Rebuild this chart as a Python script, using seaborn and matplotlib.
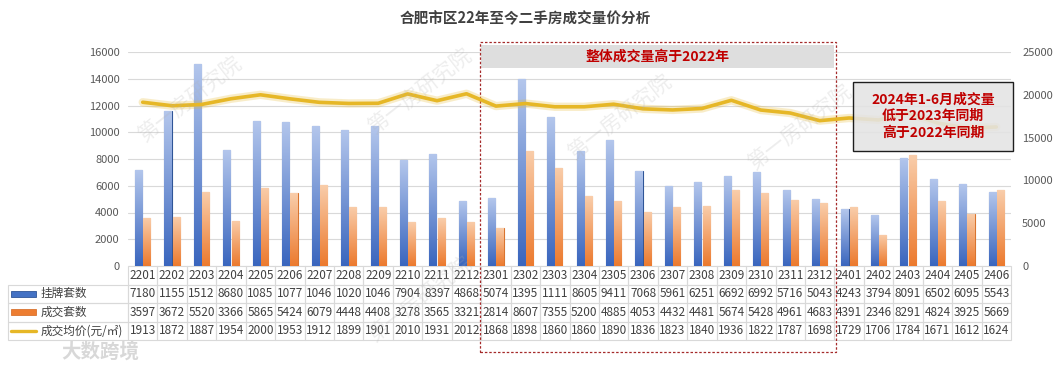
import numpy as np
import pandas as pd
import matplotlib
matplotlib.use("Agg")
import matplotlib.pyplot as plt
import seaborn as sns
from matplotlib.patches import Rectangle
from matplotlib.lines import Line2D

months = ["2201", "2202", "2203", "2204", "2205", "2206", "2207", "2208", "2209", "2210", "2211", "2212",
          "2301", "2302", "2303", "2304", "2305", "2306", "2307", "2308", "2309", "2310", "2311", "2312",
          "2401", "2402", "2403", "2404", "2405", "2406"]
listings = [7180, 11553, 15125, 8680, 10853, 10772, 10461, 10203, 10462, 7904, 8397, 4868,
            5074, 13953, 11114, 8605, 9411, 7068, 5961, 6251, 6692, 6992, 5716, 5043,
            4243, 3794, 8091, 6502, 6095, 5543]
deals = [3597, 3672, 5520, 3366, 5865, 5424, 6079, 4448, 4408, 3278, 3565, 3321,
         2814, 8607, 7355, 5200, 4885, 4053, 4432, 4481, 5674, 5428, 4961, 4683,
         4391, 2346, 8291, 4824, 3925, 5669]
price = [19130, 18720, 18870, 19540, 20000, 19530, 19120, 18990, 19010, 20100, 19310, 20120,
         18680, 18980, 18600, 18600, 18900, 18360, 18230, 18400, 19360, 18220, 17870, 16980,
         17290, 17060, 17840, 16710, 16120, 16240]
series_names = ["挂牌套数", "成交套数", "成交均价(元/㎡)"]
title = "合肥市区22年至今二手房成交量价分析"
note_2023 = "整体成交量高于2022年"
note_2024 = "2024年1-6月成交量\n低于2023年同期\n高于2022年同期"

blue = "#4472C4"
orange = "#ED7D31"
gold = "#E6B727"
red_txt = "#C00000"

sns.set_theme(style="white")
plt.rcParams["font.family"] = ["Noto Sans CJK SC", "DejaVu Sans"]

df = pd.DataFrame({"month": months, series_names[0]: listings, series_names[1]: deals})
long = df.melt(id_vars="month", var_name="series", value_name="count")
n = len(months)

fig = plt.figure(figsize=(10.56, 3.71), dpi=100)
ax = fig.add_axes([128 / 1056, 1 - 266 / 371, 883 / 1056, 214 / 371])
sns.barplot(data=long, x="month", y="count", hue="series", palette=[blue, orange],
            width=0.56, gap=0.14, saturation=1, legend=False, ax=ax)

# vertical gradient fill on each bar, like the excel style
grads = {
    "blue": ("#3A66BE", "#B3C6EC", "#2F5597"),
    "orange": ("#EC7A2E", "#F9CDAA", "#D9742F"),
}
for p in list(ax.patches):
    h = p.get_height()
    if h <= 0:
        continue
    fc = p.get_facecolor()
    key = "blue" if fc[2] > fc[0] else "orange"
    lo, hi, edge = grads[key]
    c_lo = np.array(matplotlib.colors.to_rgba(lo))
    c_hi = np.array(matplotlib.colors.to_rgba(hi))
    t = np.linspace(0, 1, 64)[:, None, None]
    img = c_lo * (1 - t) + c_hi * t
    x0 = p.get_x()
    im = ax.imshow(img, extent=[x0, x0 + p.get_width(), 0, h], origin="lower",
                   aspect="auto", zorder=p.get_zorder(), interpolation="bilinear")
    im.set_clip_path(p)
    p.set_facecolor("none")
    p.set_edgecolor(edge)
    p.set_linewidth(0.8)

ax.set_xlim(-0.5, n - 0.5)
ax.set_ylim(0, 16000)
ax.set_yticks(range(0, 16001, 2000))
ax.grid(axis="y", color="#D9D9D9", lw=0.8)
ax.set_axisbelow(True)
ax.set_xlabel("")
ax.set_ylabel("")
ax.tick_params(axis="x", length=0, labelbottom=False)
ax.tick_params(axis="y", length=0, labelsize=8, labelcolor="#595959", pad=6)
for s in ax.spines.values():
    s.set_visible(False)

ax2 = ax.twinx()
sns.lineplot(x=np.arange(n), y=price, ax=ax2, color=gold, lw=6, alpha=0.25, zorder=3)
sns.lineplot(x=np.arange(n), y=price, ax=ax2, color=gold, lw=2.6, zorder=4)
ax2.set_xlim(-0.5, n - 0.5)
ax2.set_ylim(0, 25000)
ax2.set_yticks(range(0, 25001, 5000))
ax2.tick_params(axis="y", length=0, labelsize=8, labelcolor="#595959", pad=8)
ax2.set_ylabel("")
for s in ax2.spines.values():
    s.set_visible(False)

# data table under the chart
rows = [[""] + months]
for vals in (listings, deals, price):
    rows.append([""] + [str(v)[:4] for v in vals])
x_left = (8 - 128) / 883
tbl = ax.table(cellText=rows, cellLoc="center", bbox=[x_left, -0.3458, 1 - x_left, 0.3458])
tbl.auto_set_font_size(False)
tbl.set_fontsize(8.5)
for (r, c), cell in tbl.get_celld().items():
    cell.set_edgecolor("#D9D9D9")
    cell.set_linewidth(0.8)
    cell.set_width(120 if c == 0 else 29.43)
    cell.get_text().set_color("#404040")
    cell.set_facecolor("none")
tbl[(0, 0)].visible_edges = "open"

row_y = [-0.3458 * (k + 0.5) / 4 for k in range(4)]
sw_x0 = (11 - 128) / 883
sw_w = 25 / 883
tx = (41 - 128) / 883
for k, name in enumerate(series_names):
    yc = row_y[k + 1]
    if k < 2:
        col = blue if k == 0 else orange
        edge = grads["blue" if k == 0 else "orange"][2]
        ax.add_patch(Rectangle((sw_x0, yc - 0.014), sw_w, 0.028, transform=ax.transAxes,
                               facecolor=col, edgecolor=edge, lw=0.6, clip_on=False))
    else:
        ax.add_line(Line2D([sw_x0, sw_x0 + sw_w], [yc, yc], transform=ax.transAxes,
                           color=gold, lw=2.4, clip_on=False))
    ax.text(tx, yc, name, transform=ax.transAxes, ha="left", va="center",
            fontsize=8.4, color="#404040")

# annotation boxes
tr = ax.get_xaxis_transform()
ax.add_patch(Rectangle((11.45, -0.402), 23.55 - 11.45, 1.047 + 0.402, transform=tr,
                       fill=False, edgecolor="#A52A2A", ls=(0, (2, 1.5)), lw=0.9,
                       clip_on=False, zorder=6))
ax.add_patch(Rectangle((11.5, 0.925), 23.5 - 11.5, 1.033 - 0.925, transform=tr,
                       facecolor="#DEDEDE", edgecolor="none", clip_on=False, zorder=5))
ax.text(17.5, 0.979, note_2023, transform=tr, ha="center", va="center", fontsize=10,
        fontweight="bold", color=red_txt, zorder=7, clip_on=False)

ax2.add_patch(Rectangle((24.13, 0.537), 29.57 - 24.13, 0.86 - 0.537,
                        transform=ax2.get_xaxis_transform(), facecolor="#E4E4E4",
                        edgecolor="black", lw=1.0, alpha=0.88, clip_on=False, zorder=8))
ax2.text(26.85, 0.70, note_2024, transform=ax2.get_xaxis_transform(), ha="center",
         va="center", fontsize=10, fontweight="bold", color=red_txt, linespacing=1.25,
         zorder=9, clip_on=False)

fig.text(525 / 1056, 1 - 18 / 371, title, ha="center", va="center", fontsize=10.5,
         fontweight="bold", color="#404040")

# faint watermarks
for wx, wy in [(190, 100), (420, 92), (620, 118), (800, 128), (420, 300)]:
    fig.text(wx / 1056, 1 - wy / 371, "第一房研究院", rotation=38, ha="center", va="center",
             fontsize=15, color="#B0B0B0", alpha=0.22, zorder=10)
fig.text(100 / 1056, 1 - 352 / 371, "大数跨境", ha="center", va="center", fontsize=14,
         fontweight="bold", color="#D8D8D8")

fig.savefig("out.png", dpi=100)
